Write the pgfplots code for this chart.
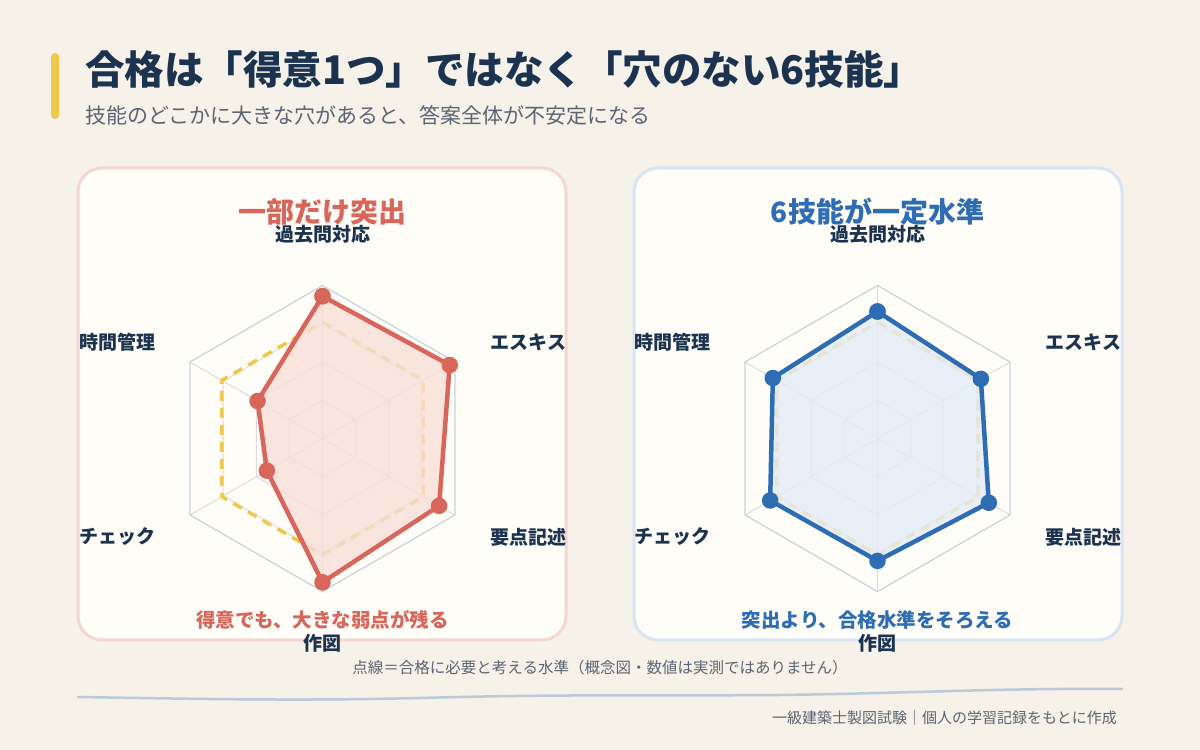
\documentclass[border=0pt]{standalone}
\usepackage{fontspec}
\setmainfont{Noto Sans CJK JP}
\usepackage{pgfplots}
\pgfplotsset{compat=1.18}

\definecolor{bg}{HTML}{F6F1E9}
\definecolor{card}{HTML}{FFFDF8}
\definecolor{pinkb}{HTML}{F5D7D1}
\definecolor{blueb}{HTML}{D8E5F4}
\definecolor{navy}{HTML}{1C3350}
\definecolor{subg}{HTML}{5B6573}
\definecolor{redc}{HTML}{D9665A}
\definecolor{redf}{HTML}{F8DED8}
\definecolor{bluec}{HTML}{2E6DB4}
\definecolor{bluef}{HTML}{E3ECF7}
\definecolor{yel}{HTML}{F2C84B}
\definecolor{ringc}{HTML}{DCDCDC}
\definecolor{outerc}{HTML}{C9D2DC}
\definecolor{wave}{HTML}{BCC9D8}

\pgfplotsset{
  radar/.style={scale only axis, width=306pt, height=306pt,
    xmin=-100, xmax=100, ymin=-100, ymax=100, hide axis, clip=false,
    anchor=center, data cs=polar},
  ring/.style={ringc, line width=1pt, forget plot},
  need/.style={yel, line width=3.5pt, dash pattern=on 10pt off 7pt, forget plot},
}

% hexagon rings, spokes and the dashed pass level of one radar
\newcommand{\radargrid}{%
  \pgfplotsinvokeforeach{25,50,75}{%
    \addplot[ring] coordinates {(90,##1) (30,##1) (330,##1) (270,##1) (210,##1) (150,##1) (90,##1)};}
  \pgfplotsinvokeforeach{30,90,150,210,270,330}{%
    \addplot[ring] coordinates {(##1,0) (##1,100)};}
  \addplot[outerc, line width=1.2pt, forget plot] coordinates {(90,100) (30,100) (330,100) (270,100) (210,100) (150,100) (90,100)};
  \addplot[need] coordinates {(90,76) (30,76) (330,76) (270,76) (210,76) (150,76) (90,76)};
}

\newcommand{\radarlabels}[1]{%
  \begin{scope}[xshift=#1pt, font=\fontsize{19}{21}\selectfont\bfseries, text=navy]
    \node at (322.5,516) {過去問対応};
    \node at (528.5,408) {エスキス};
    \node at (528.5,213) {要点記述};
    \node at (322.5,107) {作図};
    \node at (117,213) {チェック};
    \node at (117,408) {時間管理};
  \end{scope}}

\begin{document}
\begin{tikzpicture}[x=1pt, y=1pt]
\fill[bg] (0,0) rectangle (1200,750);

% heading
\fill[yel, rounded corners=4pt] (51,631) rectangle (59,697);
\node[anchor=west, inner sep=0, text=navy, font=\fontsize{39.5}{43}\selectfont\bfseries] at (85,681) {合格は「得意1つ」ではなく「穴のない6技能」};
\node[anchor=west, inner sep=0, text=subg, font=\fontsize{21}{24}\selectfont] at (85,635) {技能のどこかに大きな穴があると、答案全体が不安定になる};

% cards
\draw[line width=3pt, draw=pinkb, fill=card, rounded corners=24pt] (78,110) rectangle (566,582);
\draw[line width=3pt, draw=blueb, fill=card, rounded corners=24pt] (634,110) rectangle (1122,582);

% left radar
\begin{axis}[radar, at={(322.5pt,311.5pt)}]
\radargrid
\addplot[redc, line width=4.5pt, line join=round, fill=redf, fill opacity=0.8,
  mark=*, mark size=6pt, mark options={solid, fill=redc, fill opacity=1}]
  coordinates {(90,93) (30,96) (330,88) (270,94) (210,42) (150,49) (90,93)};
\end{axis}

% right radar
\begin{axis}[radar, at={(877.5pt,311.5pt)}]
\radargrid
\addplot[bluec, line width=4.5pt, line join=round, fill=bluef, fill opacity=0.8,
  mark=*, mark size=6pt, mark options={solid, fill=bluec, fill opacity=1}]
  coordinates {(90,83) (30,78) (330,84) (270,80) (210,81) (150,79) (90,83)};
\end{axis}

\radarlabels{0}
\radarlabels{555}

% card titles and captions
\node[text=redc, font=\fontsize{28}{30}\selectfont\bfseries] at (322.5,538) {一部だけ突出};
\node[text=bluec, font=\fontsize{28}{30}\selectfont\bfseries] at (877.5,538) {6技能が一定水準};
\node[text=redc, font=\fontsize{19.5}{22}\selectfont\bfseries] at (322.5,130) {得意でも、大きな弱点が残る};
\node[text=bluec, font=\fontsize{19.5}{22}\selectfont\bfseries] at (877.5,130) {突出より、合格水準をそろえる};

% footnote, rule and source
\node[text=subg, font=\fontsize{15.5}{18}\selectfont] at (600,82) {点線＝合格に必要と考える水準（概念図・数値は実測ではありません）};
\draw[wave, line width=2.5pt, line cap=round] (78,53) .. controls (200,51) and (300,49) .. (420,52)
  .. controls (560,56) and (650,54) .. (780,55) .. controls (920,57) and (1000,62) .. (1122,61);
\node[anchor=east, inner sep=0, text=subg, font=\fontsize{15}{17}\selectfont] at (1117,32) {一級建築士製図試験｜個人の学習記録をもとに作成};

\pgfresetboundingbox
\useasboundingbox (0,0) rectangle (1200,750);
\end{tikzpicture}
\end{document}
